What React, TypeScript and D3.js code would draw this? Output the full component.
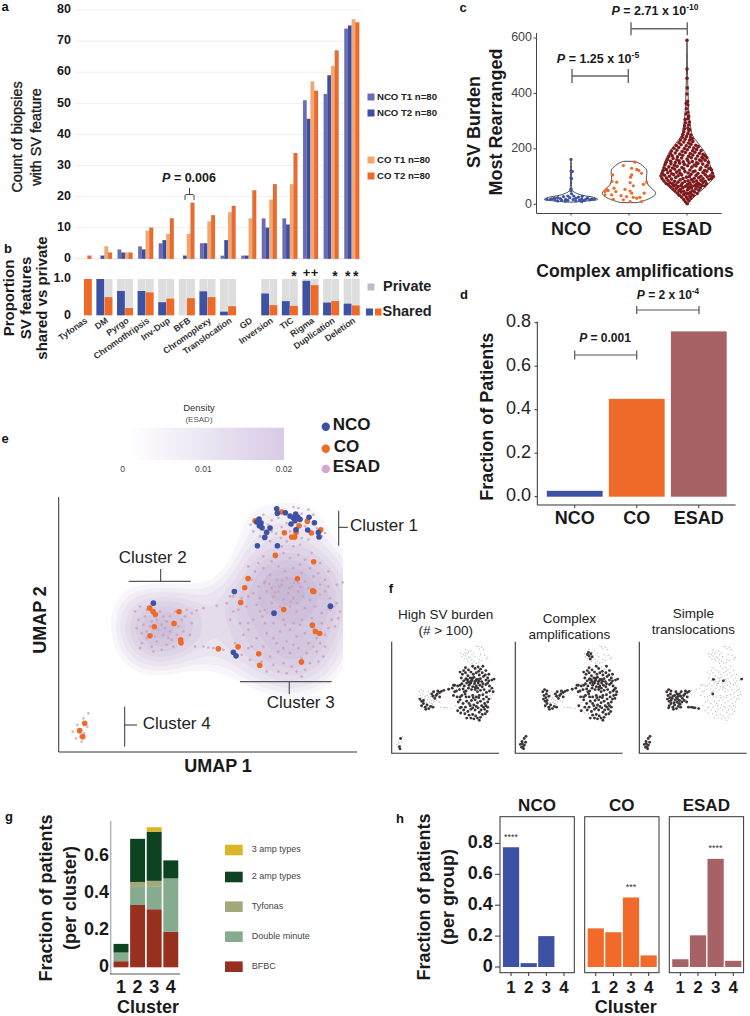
import React, { useMemo } from "react";
import * as d3 from "d3";

const FONT = "'Liberation Sans', Arial, sans-serif";
const BLUE = "#3d52a4";
const ORANGE = "#ee6a28";
const BRICK = "#a66265";

// panel a / b
const features = ["Tyfonas", "DM", "Pyrgo", "Chromothripsis", "Inv-Dup", "BFB", "Chromoplexy", "Translocation", "GD", "Inversion", "TIC", "Rigma", "Duplication", "Deletion"];
const seriesNames = ["NCO T1 n=80", "NCO T2 n=80", "CO T1 n=80", "CO T2 n=80"];
const seriesColors = ["#6a6cb5", "#3b4ea5", "#f3a66d", "#ee6a28"];
const ncoT1 = [0, 0, 3, 4, 5, 0, 5, 1, 1, 13, 13, 51, 53, 74];
const ncoT2 = [0, 1, 2, 3, 6, 1, 5, 6, 1, 10, 11, 45, 59, 75];
const coT1 = [0, 4, 2, 9, 8, 8, 12, 15, 13, 19, 24, 57, 62, 77];
const coT2 = [1, 2, 2, 10, 13, 18, 14, 17, 22, 24, 34, 54, 67, 76];
const countTicks = [0, 10, 20, 30, 40, 50, 60, 70, 80];
const sharedNco = [null, 1, 0.67, 0.67, 0.36, 0, 0.66, 0.1, null, 0.6, 0.39, 0.95, 0.35, 0.32];
const sharedCo = [1, 0.5, 0.2, 0.63, 0.46, 0.47, 0.5, 0.25, null, 0.28, 0.26, 0.83, 0.39, 0.27];
const sharedMarks: [string, number, string][] = [["TIC", 1, "*"], ["Rigma", 0, "+"], ["Rigma", 1, "+"], ["Duplication", 1, "*"], ["Deletion", 0, "*"], ["Deletion", 1, "*"]];

// panel c: [value, density]
const groups = ["NCO", "CO", "ESAD"];
const groupColors = [BLUE, ORANGE, "#7e1a1d"];
const burdenTicks = [0, 200, 400, 600];
const violinNco = [[8, .1], [12, .6], [18, 1], [25, .85], [32, .45], [40, .2], [50, .05], [70, .02], [100, .015], [130, .015], [162, .01]];
const violinCo = [[6, .3], [15, .62], [28, .9], [40, 1], [55, .88], [70, .72], [88, .65], [105, .66], [124, .66], [140, .5], [150, .35], [155, .2]];
const violinEsad = [[0, .04], [10, .1], [30, .3], [60, .65], [100, 1], [130, .9], [160, .8], [190, .65], [220, .42], [250, .2], [290, .12], [320, .08], [370, .05], [430, .03], [500, .015], [595, .005]];
// [value, offset]
const dotsNco = [[162, 0], [120, 0], [118, .05], [95, 0], [92, .02], [55, 0], [48, 0], [38, .02], [30, -.12], [30, .1], [29, .42], [28, -.28], [26, .28], [24, -.5], [24, -.05], [23, .62], [22, .18], [21, -.4], [20, -.72], [20, .4], [19, .88], [18, -.9], [18, -.2], [18, .55], [17, .08], [16, -.6], [16, .7], [15, -.35], [15, .32], [14, -.12], [13, .48], [12, -.5], [12, .18], [10, .4], [11, -.22], [20, .78], [17, -.78], [22, -.62]];
const dotsCo = [[152, .22], [140, -.21], [130, .1], [126, .29], [122, .37], [112, .47], [106, -.61], [106, .1], [98, .06], [80, -.46], [82, -.64], [80, .66], [78, .04], [54, -.15], [72, .54], [67, .16], [54, -.84], [49, -.78], [58, -.56], [48, .04], [40, .1], [34, -.9], [34, -.65], [31, -.3], [40, .57], [28, -.09], [25, .16], [22, .29], [25, .41], [18, -.59], [16, -.21], [10, .47], [10, .04], [46, -.9], [46, -.49]];
const dotsEsad = [
  [2, .01], [9, -.06], [13, .07], [17, -.12], [20, .02], [22, .15], [26, -.2], [27, -.03], [29, .11], [31, .25],
  [33, -.29], [35, -.12], [38, .05], [34, .19], [41, -.36], [44, -.22], [40, -.03], [43, .13], [45, .28], [39, .38], [48, -.45], [50, -.3], [47, -.12], [52, .02], [49, .21], [51, .44],
  [55, -.53], [58, -.4], [54, -.24], [61, -.15], [57, .08], [60, .17], [56, .33], [59, .5], [63, -.62], [66, -.5], [64, -.33], [68, -.22], [65, -.05], [62, .05], [69, .15], [67, .28], [64, .4], [68, .56], [66, .66], [71, -.7], [70, -.42], [72, .02], [73, .35], [71, .48],
  [75, -.78], [78, -.63], [74, -.54], [80, -.34], [76, -.18], [82, -.08], [77, .11], [81, .24], [75, .43], [79, .6], [74, .73], [84, -.86], [86, -.71], [83, -.47], [88, -.26], [85, .04], [89, .17], [84, .36], [87, .52], [83, .68], [90, .83],
  [92, -.93], [95, -.77], [91, -.58], [97, -.42], [93, -.15], [98, -.02], [94, .27], [96, .44], [92, .6], [99, .76], [93, .92], [102, -.97], [105, -.84], [101, -.66], [107, -.5], [103, -.33], [106, -.2], [100, .09], [108, .15], [104, .34], [101, .52], [107, .68], [103, .87], [100, .99],
  [111, -.92], [114, -.72], [110, -.57], [116, -.39], [112, -.26], [118, -.08], [113, .04], [117, .23], [111, .41], [115, .6], [119, .74], [112, .95], [122, -.89], [125, -.77], [121, -.62], [127, -.46], [123, -.29], [128, -.12], [124, .11], [120, .3], [126, .49], [122, .66], [129, .82], [124, .92],
  [132, -.86], [135, -.68], [131, -.54], [137, -.37], [133, -.19], [139, .02], [134, .18], [138, .34], [132, .52], [136, .71], [130, .87], [143, -.82], [146, -.6], [141, -.47], [148, -.28], [144, -.1], [149, .08], [142, .27], [147, .41], [145, .59], [141, .76],
  [152, -.78], [155, -.61], [151, -.44], [157, -.3], [153, -.14], [158, .03], [154, .2], [150, .36], [156, .53], [159, .68], [152, .8], [162, -.73], [165, -.52], [161, -.38], [167, -.2], [163, 0], [168, .16], [164, .33], [160, .47], [166, .6], [169, .74],
  [172, -.68], [175, -.55], [171, -.36], [177, -.16], [173, .06], [178, .22], [174, .4], [170, .56], [176, .68], [182, -.62], [185, -.44], [181, -.27], [187, -.06], [183, .12], [188, .3], [184, .47], [180, .6],
  [192, -.58], [195, -.38], [191, -.18], [197, .01], [193, .21], [198, .36], [194, .53], [202, -.49], [205, -.31], [201, -.1], [207, .09], [203, .25], [208, .42], [212, -.4], [215, -.22], [211, -.03], [217, .15], [213, .33],
  [222, -.3], [225, -.12], [221, .05], [227, .22], [232, -.24], [235, -.07], [231, .1], [237, .2], [242, -.18], [245, -.02], [241, .13], [252, -.15], [255, .03], [250, .14], [262, -.12], [265, .07], [272, -.1], [275, .03], [270, .1], [283, -.09], [286, .06], [294, -.05], [297, .09], [306, -.07], [309, .03], [318, .06], [326, -.04], [332, .03], [345, -.02], [358, .03], [364, -.03], [372, .02], [398, 0], [420, .01], [455, 0], [488, 0], [592, 0],
];

// panel d
const complexAmpFractions = [0.027, 0.45, 0.76];
const fractionTicks = [0, 0.2, 0.4, 0.6, 0.8];

// panel e: positions, flags below say which f panel marks them
const cluster1Plain = [[752, 405], [790, 375], [815, 392], [828, 432], [842, 445], [810, 455], [860, 400], [880, 352], [905, 372], [915, 410], [940, 375], [950, 415], [965, 440], [905, 445], [925, 450], [870, 425], [845, 412], [780, 440], [760, 425], [835, 385], [895, 355], [925, 360], [975, 430], [860, 455], [880, 470], [900, 465], [845, 470]];
const cluster1Amp = [[790, 420], [805, 405], [775, 410], [800, 440], [785, 395], [815, 425]];
const cluster2TopLeft = [[405, 665], [420, 650], [435, 680], [415, 690], [440, 660], [455, 695], [430, 705]];
const cluster2Right = [[510, 680], [525, 665], [545, 690], [560, 660], [575, 670], [590, 662], [535, 710], [555, 680], [520, 695], [575, 700]];
const cluster2Bottom = [[410, 715], [425, 730], [440, 745], [425, 760], [455, 770], [470, 755], [440, 725], [485, 780], [500, 765], [460, 785], [520, 770]];
const cluster2Middle = [[470, 690], [485, 705], [500, 695], [475, 720], [490, 735], [510, 725], [530, 735], [515, 750], [550, 725], [490, 680], [465, 740], [495, 715], [480, 665], [505, 745], [450, 710], [420, 775], [570, 735]];
const linkTop = [[610, 655], [650, 648], [680, 640], [700, 620]];
const linkBottom = [[585, 770], [610, 770], [625, 773], [640, 775], [670, 780]];
const cluster3Main = [[790, 500], [815, 515], [850, 490], [870, 505], [935, 490], [960, 520], [765, 545], [790, 535], [810, 555], [835, 530], [855, 545], [880, 535], [905, 550], [930, 535], [955, 550], [985, 545], [745, 530], [755, 570], [775, 590], [795, 575], [815, 595], [830, 570], [845, 585], [860, 565], [895, 580], [915, 575], [925, 595], [960, 585], [985, 590], [1010, 585], [760, 610], [780, 625], [800, 605], [820, 620], [835, 605], [850, 630], [865, 610], [880, 625], [895, 605], [910, 620], [930, 630], [960, 615], [975, 605], [690, 620], [740, 650], [770, 645], [795, 660], [815, 640], [840, 650], [870, 650], [890, 665], [915, 655], [945, 650], [965, 670], [715, 660], [720, 700], [760, 690], [795, 700], [850, 690], [880, 700], [905, 690], [935, 685], [965, 700], [770, 745], [800, 730], [840, 725], [860, 755], [890, 740], [915, 730], [950, 745], [975, 735], [830, 760], [975, 770], [790, 770], [810, 800], [835, 785], [870, 790], [895, 775], [920, 790], [950, 785], [970, 800], [820, 825], [850, 820], [875, 830], [890, 845], [905, 860], [915, 840], [930, 820], [955, 815], [860, 850], [808, 582], [838, 592], [868, 595], [882, 580], [826, 608], [872, 636], [902, 592], [846, 572], [892, 640],
  [870, 720], [900, 705], [925, 760], [940, 715], [880, 765], [905, 805], [940, 770], [960, 760], [850, 775], [855, 705], [820, 700], [820, 745], [745, 700], [745, 720], [700, 665], [985, 715], [990, 660], [1010, 640], [1020, 665], [935, 610], [775, 520], [900, 525], [940, 560], [975, 570], [780, 665], [745, 620], [725, 625], [755, 770], [775, 790], [725, 795], [800, 845], [835, 845], [990, 625]];
const cluster3HighOnly = [[895, 495], [915, 510], [745, 775], [750, 810], [785, 815], [730, 735], [690, 690]];
const cluster3AmpOnly = [[1000, 650], [995, 690], [1015, 685], [1005, 710], [705, 760]];
const cluster3Trans = [[793, 580], [876, 590], [1028, 578], [787, 680]];
const cluster4All = [[250, 985], [240, 1040], [245, 1055]];
const cluster4AmpTrans = [[265, 970], [232, 1005], [218, 1025], [252, 1030], [262, 1010], [228, 1045], [235, 1020]];
// [points, high SV, complex amp, simple translocation, density weight]
const umapGroups: [number[][], boolean, boolean, boolean, number][] = [
  [cluster1Plain, false, false, false, .3], [cluster1Amp, false, true, false, .3],
  [cluster2TopLeft, false, true, true, 1], [cluster2Right, true, true, true, 1], [cluster2Bottom, true, true, true, 1], [cluster2Middle, false, false, true, 1],
  [linkTop, true, true, false, 1], [linkBottom, false, false, true, 1],
  [cluster3Main, true, true, false, 1], [cluster3HighOnly, true, false, false, 1], [cluster3AmpOnly, false, true, false, 1], [cluster3Trans, true, true, true, 1],
  [cluster4All, true, true, true, .25], [cluster4AmpTrans, false, true, true, .25],
];
const umapCo = [[765, 393], [845, 367], [922, 395], [897, 408], [853, 429], [888, 428], [884, 442], [934, 430], [962, 420], [875, 442], [826, 497], [941, 516], [892, 567], [744, 566], [734, 594], [722, 638], [941, 605], [938, 603], [851, 659], [937, 706], [946, 725], [959, 731], [904, 816], [655, 777], [714, 771], [776, 792], [779, 826], [449, 655], [459, 665], [466, 674], [537, 666], [522, 701], [463, 711], [450, 738], [542, 750], [543, 759], [254, 1000], [239, 1022], [248, 1040]];
const umapNco = [[830, 357], [832, 371], [856, 369], [870, 379], [887, 373], [880, 385], [893, 382], [900, 389], [885, 393], [873, 403], [927, 383], [943, 399], [923, 421], [955, 428], [957, 442], [777, 388], [770, 397], [783, 400], [778, 408], [786, 414], [810, 415], [800, 428], [794, 443], [772, 468], [832, 468], [888, 420], [703, 605], [822, 670], [991, 649], [460, 640], [700, 787], [708, 798]];
const densityLevels = [.0012, .002, .003, .0045, .006, .008, .01, .0125, .015, .018, .021, .025];
const densityTicks = [0, 0.01, 0.02];
const mapPanels = [
  { lines: ["High SV burden", "(# > 100)"], ys: [615, 631], flag: 1 },
  { lines: ["Complex", "amplifications"], ys: [619, 635.5], flag: 2 },
  { lines: ["Simple", "translocations"], ys: [614, 630.5], flag: 3 },
];

// panel g
const clusters = ["1", "2", "3", "4"];
const ampTypes = ["BFBC", "Double minute", "Tyfonas", "2 amp types", "3 amp types"];
const ampColors = ["#97301f", "#85ac8e", "#a4a777", "#0e4321", "#dcb624"];
const bfbc = [.033, .338, .315, .193];
const doubleMinute = [.047, .098, .125, .289];
const tyfonas = [0, .027, .029, 0];
const twoAmp = [.047, .234, .267, .098];
const threeAmp = [0, 0, .024, 0];
const clusterTicks = [0, .2, .4, .6];

// panel h
const perGroup = [[.775, .025, .2, 0], [.25, .225, .45, .075], [.05, .205, .7, .04]];
const perGroupColors = [BLUE, "#f06a2a", BRICK];
const perGroupStars = [["1", "****", .775], ["3", "***", .45], ["3", "****", .7]];
const perGroupTicks = [0, .2, .4, .6, .8];

const fmt = (v: number) => (v === 0 ? "0" : v.toFixed(1));

const T = ({ x, y, size = 12, weight = "normal", anchor = "middle", rot, fill = "#1a1a1a", thick, children }: any) => (
  <text x={x} y={y} fontSize={size} fontWeight={weight} textAnchor={anchor} fill={fill} dominantBaseline="middle"
    stroke={thick ? fill : undefined} strokeWidth={thick}
    transform={rot !== undefined ? `rotate(${rot} ${x} ${y})` : undefined}>{children}</text>
);

const Bracket = ({ x1, x2, y, cap = 4, color = "#555", w = 1.2 }: any) => (
  <path d={`M${x1},${y - cap}V${y + cap}M${x1},${y}H${x2}M${x2},${y - cap}V${y + cap}`} fill="none" stroke={color} strokeWidth={w} />
);

const PLabel = ({ x, y, size = 12.5, text, sup }: any) => (
  <text x={x} y={y} fontSize={size} fontWeight="bold" textAnchor="middle" dominantBaseline="middle" fill="#1a1a1a">
    <tspan fontStyle="italic">P</tspan>{" = " + text}
    {sup && <tspan dy={-4} fontSize={size * 0.68}>{sup}</tspan>}
  </text>
);

const PanelA = () => {
  const y = d3.scaleLinear().domain([0, 80]).range([258.8, 10]);
  const x = d3.scalePoint<string>().domain(features).range([83.8, 351.7]);
  const inner = d3.scaleBand<string>().domain(seriesNames).range([-7.5, 7.5]);
  const series = [ncoT1, ncoT2, coT1, coT2];
  return (
    <g>
      {countTicks.map(t => (
        <g key={t}>
          {t > 0 && <line x1={75} x2={361} y1={y(t)} y2={y(t)} stroke="#efefef" />}
          <T x={71} y={y(t)} weight="bold" anchor="end" size={12.5}>{t}</T>
        </g>
      ))}
      <line x1={75} x2={361} y1={y(0)} y2={y(0)} stroke="#e4e4e4" />
      {series.map((vals, s) => vals.map((v, i) => v > 0 && (
        <rect key={`${s}-${i}`} x={x(features[i])! + inner(seriesNames[s])!} width={inner.bandwidth()} y={y(v)} height={y(0) - y(v)}
          fill={seriesColors[s]} stroke={s % 2 ? "#8a5a50" : "#bbb"} strokeOpacity={0.35} strokeWidth={0.5} />
      )))}
      <T x={18} y={137} size={14.4} rot={-90} thick={0.35}>Count of biopsies</T>
      <T x={37} y={137} size={14.4} rot={-90} thick={0.35}>with SV feature</T>
      <PLabel x={189} y={179} size={12.5} text="0.006" />
      <path d="M185,200V195.5Q185,194.5 187,194.5H192Q194,194.5 194,195.5V200M189.5,194.5V188" fill="none" stroke="#333" strokeWidth={0.9} />
      {seriesNames.map((n, i) => {
        const ly = [97, 113, 160, 176][i];
        return (
          <g key={n}>
            <rect x={367.5} y={ly - 3.5} width={7} height={7} fill={seriesColors[i]} />
            <T x={377} y={ly} size={9.6} weight="bold" anchor="start" fill="#222">{n}</T>
          </g>
        );
      })}
    </g>
  );
};

const PanelB = () => {
  const y = d3.scaleLinear().domain([0, 1]).range([315.3, 279]);
  const x = d3.scalePoint<string>().domain(features).range([83.8, 351.7]);
  const side = d3.scaleBand<string>().domain(["NCO", "CO"]).range([-8, 8]).paddingInner(0.04);
  return (
    <g>
      <T x={71} y={y(1)} weight="bold" anchor="end" size={12.5}>1.0</T>
      <T x={71} y={y(0)} weight="bold" anchor="end" size={12.5}>0</T>
      {features.map((f, i) => (
        <g key={f}>
          {([["NCO", sharedNco[i], BLUE], ["CO", sharedCo[i], ORANGE]] as [string, number | null, string][]).map(([k, v, c]) => v !== null && (
            <g key={k}>
              <rect x={x(f)! + side(k)!} width={side.bandwidth()} y={y(1)} height={y(0) - y(1)} fill="#dddddd" />
              {v > 0 && <rect x={x(f)! + side(k)!} width={side.bandwidth()} y={y(v)} height={y(0) - y(v)} fill={c} />}
            </g>
          ))}
          <T x={x(f)! + 3} y={320} size={8.8} weight="bold" anchor="end" rot={-35} fill="#333">{f}</T>
        </g>
      ))}
      {sharedMarks.map(([f, k, m], i) => (
        <T key={i} x={x(f)! + (k ? 4 : -4)} y={m === "*" ? 277 : 274} size={m === "*" ? 14 : 13} weight="bold">{m}</T>
      ))}
      <T x={10} y={298} size={15} weight="bold" rot={-90}>Proportion</T>
      <T x={27} y={298} size={15} weight="bold" rot={-90} >SV features</T>
      <T x={43.5} y={298} size={15} weight="bold" rot={-90}>shared vs private</T>
      <rect x={367.5} y={283.5} width={7} height={7} fill="#bdbdbd" />
      <T x={383} y={287} size={14.5} weight="bold" anchor="start" fill="#222">Private</T>
      <rect x={366} y={308.5} width={7} height={7} fill={BLUE} />
      <rect x={375} y={308.5} width={6.5} height={7} fill={ORANGE} />
      <T x={382.5} y={312} size={14.5} weight="bold" anchor="start" fill="#222">Shared</T>
    </g>
  );
};

const PanelC = () => {
  const y = d3.scaleLinear().domain([0, 600]).range([204.3, 38]);
  const x = d3.scalePoint<string>().domain(groups).range([571, 687]);
  const w = d3.scaleLinear().domain([0, 1]).range([0, 26.7]);
  const violins = [violinNco, violinCo, violinEsad];
  const dots = [dotsNco, dotsCo, dotsEsad];
  return (
    <g>
      {groups.map((g, i) => {
        const cx = x(g)!;
        const area = d3.area<number[]>().curve(d3.curveCatmullRom.alpha(0.5))
          .y(d => y(d[0])).x0(d => cx - w(d[1])).x1(d => cx + w(d[1]));
        return (
          <g key={g}>
            <path d={area(violins[i])!} fill="#fff" stroke="#3a3a3a" strokeWidth={0.9} />
            {dots[i].map((d, j) => <circle key={j} cx={cx + w(d[1])} cy={y(d[0])} r={i === 2 ? 1.8 : 1.6} fill={groupColors[i]} />)}
            <line x1={cx} x2={cx} y1={213} y2={215.5} stroke="#444" />
            <T x={cx} y={230} size={18} weight="bold">{g}</T>
          </g>
        );
      })}
      <path d="M536.5,33V213.5H721.5" fill="none" stroke="#444" strokeWidth={1} />
      {burdenTicks.map(t => (
        <g key={t}>
          <line x1={533.5} x2={536.5} y1={y(t)} y2={y(t)} stroke="#444" />
          <T x={532} y={y(t)} size={12.5} anchor="end" fill="#444">{t}</T>
        </g>
      ))}
      <T x={475} y={122} size={18} weight="bold" rot={-90}>SV Burden</T>
      <T x={497} y={122} size={18} weight="bold" rot={-90}>Most Rearranged</T>
      <Bracket x1={631} x2={687.3} y={28.7} cap={6.5} w={1.4} color="#666" />
      <PLabel x={655} y={12} text="2.71 x 10" sup="-10" />
      <Bracket x1={572} x2={628.3} y={76} cap={7} w={1.4} color="#666" />
      <PLabel x={598} y={60} text="1.25 x 10" sup="-5" />
    </g>
  );
};

const PanelD = () => {
  const y = d3.scaleLinear().domain([0, .8]).range([496.7, 322.7]);
  const x = d3.scaleBand<string>().domain(groups).range([544, 729.5]).paddingInner(0.1).paddingOuter(0.045);
  const colors = [BLUE, "#ee6a28", BRICK];
  return (
    <g>
      <T x={635} y={272.7} size={17.6} weight="bold">Complex amplifications</T>
      {groups.map((g, i) => {
        const cx = x(g)! + x.bandwidth() / 2;
        return (
          <g key={g}>
            <rect x={x(g)} width={x.bandwidth()} y={y(complexAmpFractions[i])} height={y(0) - y(complexAmpFractions[i])} fill={colors[i]} />
            <line x1={cx} x2={cx} y1={505} y2={508} stroke="#333" />
            <T x={cx} y={519} size={18} weight="bold">{g}</T>
          </g>
        );
      })}
      <path d="M537.3,321.5V505H735.7" fill="none" stroke="#333" strokeWidth={1} />
      {fractionTicks.map(t => (
        <g key={t}>
          <line x1={534.5} x2={537.3} y1={y(t)} y2={y(t)} stroke="#333" />
          <T x={531} y={y(t)} size={18} anchor="end" fill="#222">{t.toFixed(1)}</T>
        </g>
      ))}
      <T x={488} y={416.7} size={18} weight="bold" rot={-90}>Fraction of Patients</T>
      <Bracket x1={636.7} x2={699} y={310} cap={4} />
      <PLabel x={668} y={296} size={12} text="2 x 10" sup="-4" />
      <Bracket x1={574.7} x2={636.7} y={355} cap={4.5} />
      <PLabel x={605} y={339} size={12} text="0.001" />
    </g>
  );
};

const PanelE = () => {
  const x = d3.scaleLinear().domain([176, 1070]).range([58.7, 356.7]);
  const y = d3.scaleLinear().domain([1086, 322]).range([752, 497]);
  const esad = umapGroups.flatMap(g => g[0]);
  const weighted = umapGroups.flatMap(g => g[0].map(d => [d[0], d[1], g[4]]));
  const contours = useMemo(() => d3.contourDensity<number[]>()
    .x(d => x(d[0])).y(d => y(d[1])).weight(d => d[2]).size([750, 1016]).bandwidth(16).cellSize(2)
    .thresholds(densityLevels)(weighted), []);
  const path = d3.geoPath();
  const legend = d3.scaleLinear().domain([0, 0.02]).range([122.7, 284]);
  return (
    <g>
      <defs>
        <clipPath id="mapClip"><rect x={58} y={497} width={285} height={255} /></clipPath>
        <linearGradient id="densityRamp">
          <stop offset="0" stopColor="#ffffff" />
          <stop offset="1" stopColor="#d8cbe6" />
        </linearGradient>
      </defs>
      <T x={199} y={408} size={9.5} fill="#333">Density</T>
      <T x={199} y={420} size={8} fill="#555">(ESAD)</T>
      <rect x={128} y={427.7} width={156} height={32.3} fill="url(#densityRamp)" />
      {densityTicks.map(t => <T key={t} x={legend(t)} y={469.5} size={8.5} fill="#444">{t}</T>)}
      <g clipPath="url(#mapClip)">
        {contours.map((c, i) => <path key={i} d={path(c)!} fill="#74519f" fillOpacity={0.05} />)}
      </g>
      {esad.map((d, i) => <circle key={i} cx={x(d[0])} cy={y(d[1])} r={1.35} fill="#c99fae" fillOpacity={0.75} />)}
      {umapCo.map((d, i) => <circle key={i} cx={x(d[0])} cy={y(d[1])} r={2.8} fill={ORANGE} />)}
      {umapNco.map((d, i) => <circle key={i} cx={x(d[0])} cy={y(d[1])} r={2.8} fill={BLUE} />)}
      <path d="M58.7,497V752H357" fill="none" stroke="#333" strokeWidth={1} />
      <T x={41} y={620} size={18} weight="bold" rot={-90}>UMAP 2</T>
      <T x={218} y={767} size={18} weight="bold">UMAP 1</T>
      {[["NCO", BLUE, 426.7, 332.7], ["CO", ORANGE, 448.7, 333.7], ["ESAD", "#d5a6d0", 469, 332.7]].map(([n, c, ly, tx]: any) => (
        <g key={n}>
          <circle cx={325.8} cy={ly} r={4.2} fill={c} />
          <T x={tx} y={ly - 1} size={17} weight="bold" anchor="start">{n}</T>
        </g>
      ))}
      <path d="M338.7,510.7V545.7M338.7,527.3H348" fill="none" stroke="#333" />
      <T x={350} y={527} size={17} anchor="start" fill="#222">Cluster 1</T>
      <path d="M128.7,581.3H190.7M160.7,569V581.3" fill="none" stroke="#333" />
      <T x={152.7} y={559} size={17} fill="#222">Cluster 2</T>
      <path d="M240,681.7H331.7M289.3,681.7V694" fill="none" stroke="#555" strokeWidth={1.2} />
      <T x={300.7} y={704} size={17} fill="#222">Cluster 3</T>
      <path d="M124.7,706.7V746.7M124.7,725H137" fill="none" stroke="#333" />
      <T x={142.7} y={725} size={17} anchor="start" fill="#222">Cluster 4</T>
    </g>
  );
};

const PanelF = () => {
  const lefts = [391.7, 515.3, 639.3];
  return (
    <g>
      {mapPanels.map((p, k) => {
        const x = d3.scaleLinear().domain([176, 1070]).range([lefts[k], lefts[k] + 107.4]);
        const y = d3.scaleLinear().domain([1086, 322]).range([753.3, 641.7]);
        const pts = umapGroups.flatMap(g => g[0].map(d => ({ d, on: g[p.flag] as boolean })));
        return (
          <g key={k}>
            {p.lines.map((l, i) => <T key={l} x={lefts[k] + 54} y={p.ys[i]} size={13.5} fill="#222">{l}</T>)}
            {pts.filter(q => !q.on).map((q, i) => <circle key={i} cx={x(q.d[0])} cy={y(q.d[1])} r={0.7} fill="#bdbdbd" />)}
            {pts.filter(q => q.on).map((q, i) => <circle key={i} cx={x(q.d[0])} cy={y(q.d[1])} r={1.45} fill="#3c3436" />)}
            <path d={`M${lefts[k]},641.7V753.3H${lefts[k] + 107.4}`} fill="none" stroke="#333" strokeWidth={1.1} />
          </g>
        );
      })}
    </g>
  );
};

const PanelG = () => {
  const y = d3.scaleLinear().domain([0, .6]).range([967.3, 856.7]);
  const x = d3.scaleBand<string>().domain(clusters).range([113.2, 178.6]).paddingInner(0.1).paddingOuter(0.02);
  const table = clusters.map((c, i) => ({ c, BFBC: bfbc[i], "Double minute": doubleMinute[i], Tyfonas: tyfonas[i], "2 amp types": twoAmp[i], "3 amp types": threeAmp[i] }));
  const stack = d3.stack<any>().keys(ampTypes)(table);
  const legendY = [966.7, 936.7, 906.7, 877, 850];
  return (
    <g>
      {stack.map((s, i) => s.map(d => d[1] > d[0] && (
        <rect key={`${i}-${d.data.c}`} x={x(d.data.c)} width={x.bandwidth()} y={y(d[1])} height={y(d[0]) - y(d[1])} fill={ampColors[i]} />
      )))}
      <line x1={110.7} x2={110.7} y1={821} y2={974} stroke="#b5b5b5" strokeWidth={1.5} />
      <line x1={110} x2={180} y1={974} y2={974} stroke="#555" />
      {clusters.map(c => <T key={c} x={x(c)! + x.bandwidth() / 2} y={988} size={18} weight="bold">{c}</T>)}
      {clusterTicks.map(t => <T key={t} x={109} y={y(t)} size={18} weight="bold" anchor="end">{fmt(t)}</T>)}
      <T x={148} y={1008} size={18} weight="bold">Cluster</T>
      <T x={47.5} y={898} size={18} weight="bold" rot={-90}>Fraction of patients</T>
      <T x={71} y={898} size={18} rot={-90} weight="bold">(per cluster)</T>
      {ampTypes.map((a, i) => (
        <g key={a}>
          <rect x={225} y={legendY[i] - 5.3} width={17.7} height={10.6} fill={ampColors[i]} />
          <T x={251.7} y={legendY[i]} size={9} anchor="start" fill="#444">{a}</T>
        </g>
      ))}
    </g>
  );
};

const PanelH = () => {
  const y = d3.scaleLinear().domain([0, .8]).range([967, 843.4]);
  const lefts = [500, 584.7, 669.3];
  return (
    <g>
      {groups.map((g, k) => {
        const x = d3.scaleBand<string>().domain(clusters).range([lefts[k] + 2.4, lefts[k] + 72.6]).paddingInner(0.08).paddingOuter(0.03);
        const [sc, st, sv] = perGroupStars[k] as [string, string, number];
        return (
          <g key={g}>
            <T x={lefts[k] + 37} y={806.5} size={17} weight="bold">{g}</T>
            {perGroup[k].map((v, i) => v > 0 && (
              <rect key={i} x={x(clusters[i])} width={x.bandwidth()} y={y(v)} height={y(0) - y(v)} fill={perGroupColors[k]} />
            ))}
            <rect x={lefts[k]} y={816.7} width={74.3} height={156} fill="none" stroke="#333" strokeWidth={1} />
            {clusters.map(c => {
              const cx = x(c)! + x.bandwidth() / 2;
              return (
                <g key={c}>
                  <line x1={cx} x2={cx} y1={972.7} y2={976} stroke="#333" />
                  <T x={cx} y={988.5} size={17} weight="bold">{c}</T>
                </g>
              );
            })}
            <T x={x(sc)! + x.bandwidth() / 2} y={y(sv) - 10} size={9} fill="#333">{st}</T>
          </g>
        );
      })}
      {perGroupTicks.map(t => (
        <g key={t}>
          <line x1={495} x2={500} y1={y(t)} y2={y(t)} stroke="#333" />
          <T x={492.7} y={y(t)} size={18} weight="bold" anchor="end">{fmt(t)}</T>
        </g>
      ))}
      <T x={625.7} y={1008} size={18} weight="bold">Cluster</T>
      <T x={425} y={897} size={18} weight="bold" rot={-90}>Fraction of patients</T>
      <T x={449} y={897} size={18} weight="bold" rot={-90}>(per group)</T>
    </g>
  );
};

const panelLetters: [string, number, number][] = [["a", 5, 8], ["b", 8, 250], ["c", 463, 9], ["d", 464, 296], ["e", 5, 440], ["f", 391, 590], ["g", 9, 818], ["h", 400, 820]];

export default function App() {
  return (
    <svg width={750} height={1016} fontFamily={FONT} style={{ position: "absolute", left: 0, top: 0, display: "block", background: "#fff" }}>
      <PanelA />
      <PanelB />
      <PanelC />
      <PanelD />
      <PanelE />
      <PanelF />
      <PanelG />
      <PanelH />
      {panelLetters.map(([l, x, y]) => <T key={l} x={x} y={y} size={13} weight="bold" fill="#111">{l}</T>)}
    </svg>
  );
}
